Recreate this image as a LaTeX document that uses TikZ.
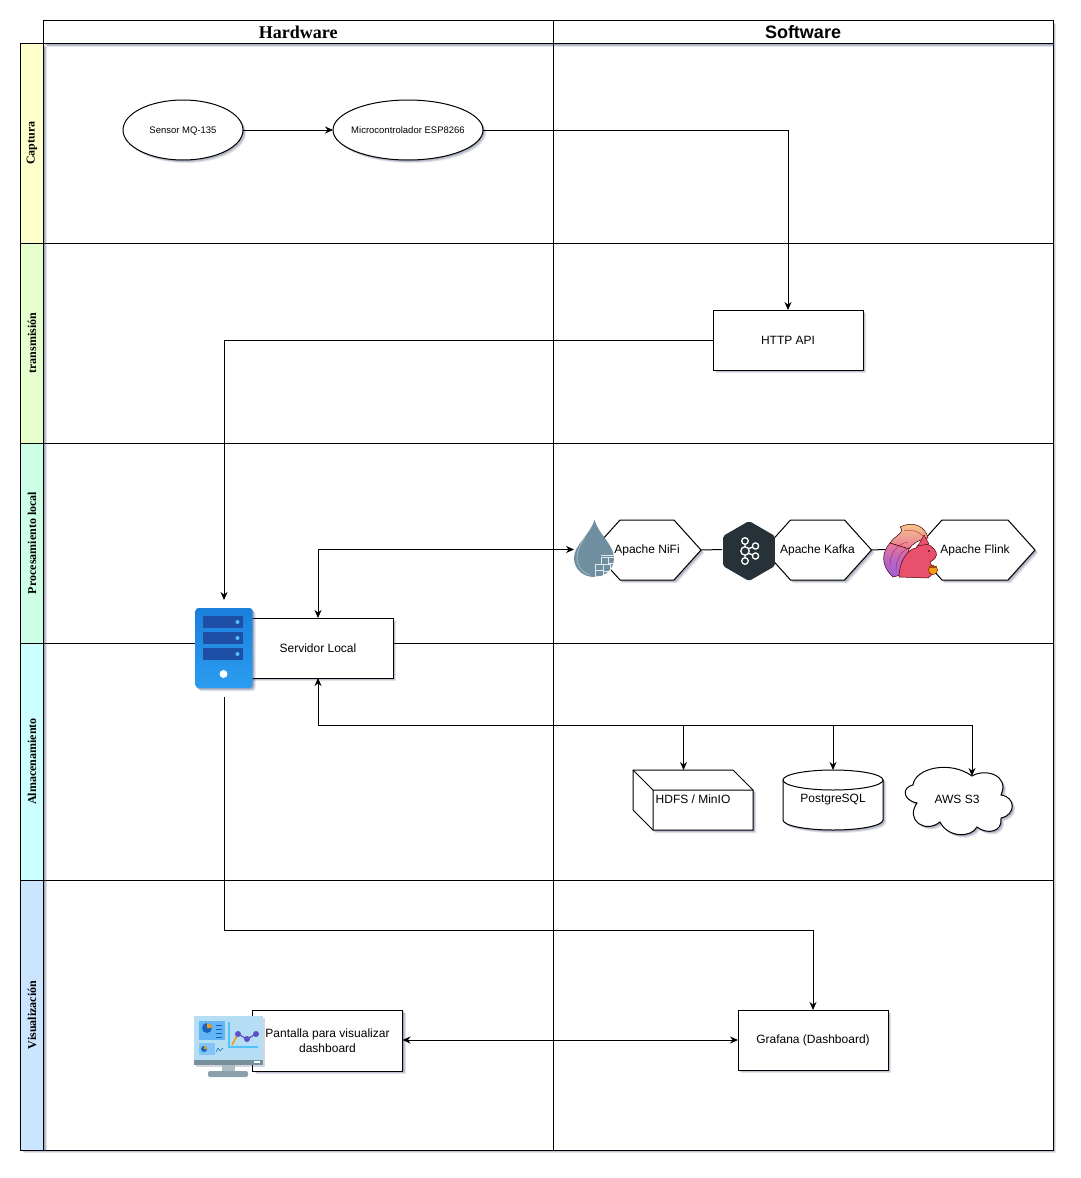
\documentclass[tikz,border=0pt]{standalone}
\usepackage{fontspec}
\setmainfont{Liberation Sans}
\newfontfamily\serifbold[BoldFont=Liberation Serif Bold]{Liberation Serif}
\usetikzlibrary{arrows.meta,shadows,shapes.geometric,shapes.symbols}
\definecolor{capcol}{HTML}{FFFFCC}
\definecolor{tracol}{HTML}{E6FFCC}
\definecolor{procol}{HTML}{CCFFE6}
\definecolor{almcol}{HTML}{CCFFFF}
\definecolor{viscol}{HTML}{CCE5FF}
\definecolor{shdcol}{HTML}{2A3560}
\definecolor{srvtop}{HTML}{1B7FDC}
\definecolor{srvbot}{HTML}{2B9DF0}
\definecolor{srvbar}{HTML}{1F4EA6}
\definecolor{srvdot}{HTML}{4FC3F7}
\definecolor{kafcol}{HTML}{263238}
\definecolor{nifcol}{HTML}{6F8E9F}
\definecolor{flicol}{HTML}{E8506E}
\definecolor{colayel}{HTML}{F7D08A}
\definecolor{colapin}{HTML}{E8789A}
\definecolor{colapur}{HTML}{A35FD6}
\definecolor{scrcol}{HTML}{B5DEF5}
\definecolor{belcol}{HTML}{78909C}
\definecolor{pancol}{HTML}{64B5F6}
\definecolor{ploblue}{HTML}{1565C0}
\definecolor{plocol}{HTML}{F39C12}
\definecolor{pldcol}{HTML}{5C4FC4}
\newcommand{\sintam}[1]{\makebox[0pt]{#1}}
\newcommand{\centrado}[1]{\raisebox{-3.4pt}[0pt][0pt]{\sintam{#1}}}
\tikzset{
	softshadow/.style={
		drop shadow={shadow xshift=1pt,shadow yshift=-1pt,fill=shdcol,opacity=.18},
		drop shadow={shadow xshift=2pt,shadow yshift=-2pt,fill=shdcol,opacity=.18},
		drop shadow={shadow xshift=3pt,shadow yshift=-3pt,fill=shdcol,opacity=.14}},
	lane/.style={draw,fill=white,inner sep=0,outer sep=0,line width=1pt,softshadow},
	lanetxt/.style={rotate=90,inner sep=0,font=\serifbold\bfseries\fontsize{12}{14}\selectfont},
	box/.style={draw,fill=white,minimum width=150pt,minimum height=60pt,inner sep=2pt,outer sep=0,
		align=center,line width=1pt,softshadow,font=\fontsize{12}{14.5}\selectfont},
	sensor/.style={ellipse,draw,fill=white,minimum height=60pt,inner sep=0,outer sep=0,
		line width=1pt,softshadow,font=\fontsize{9.5}{11}\selectfont},
	hexa/.style={signal,signal to=east and west,signal pointer angle=96,draw,fill=white,
		minimum height=60pt,inner sep=0,outer sep=0,line width=1pt,softshadow,
		font=\fontsize{12}{14}\selectfont},
	txt/.style={inner sep=0,font=\fontsize{12}{14}\selectfont},
	flecha/.style={line width=1pt,-{Stealth[length=8pt,width=7pt]}},
	doble/.style={line width=1pt,{Stealth[length=8pt,width=7pt]}-{Stealth[length=8pt,width=7pt]}}
}
\begin{document}
\begin{tikzpicture}[x=1pt,y=-1pt]
\useasboundingbox (0,0) rectangle (1081,1178);
\fill[white] (0,0) rectangle (1081,1178);
% swimlanes
\node[lane,minimum width=1009.5pt,minimum height=1106.5pt] (table) at (548.25,596.75) {};
\foreach \ytop/\ybot in {43.5/243,243/443,443/643,643/880,880/1150}
	\draw[line width=1pt] (43.5,\ytop) rectangle (1053,\ybot);
\draw[line width=1pt] (553,43.5) -- (553,1150);
\foreach \rowname/\ytop/\ybot/\rowcol [count=\i] in {Captura/43.5/243/capcol,transmisión/243/443/tracol,
	Procesamiento local/443/643/procol,Almacenamiento/643/880/almcol,Visualización/880/1150/viscol}{
	\node[lane,fill=\rowcol,minimum width=23pt,minimum height={(\ybot-\ytop)*1pt}] (lane\i) at (32,{(\ytop+\ybot)/2}) {};
	\node[lanetxt] (lanetxt\i) at (32,{(\ytop+\ybot)/2}) {\rowname};
}
\node[lane,minimum width=509.5pt,minimum height=23pt,font=\serifbold\bfseries\fontsize{18}{20}\selectfont] (hardware) at (298.25,32) {Hardware};
\node[lane,minimum width=500pt,minimum height=23pt,font=\bfseries\fontsize{18}{20}\selectfont] (software) at (803,32) {Software};
% nodos
\node[sensor,minimum width=120pt] (mq) at (183,130) {\centrado{Sensor MQ-135}};
\node[sensor,minimum width=150pt] (esp) at (408,130) {\centrado{Microcontrolador ESP8266}};
\node[box] (api) at (788,340) {HTTP API};
\node[box] (srv) at (318,648) {Servidor Local};
\node[box,minimum height=61pt] (pantalla) at (327.5,1040.5) {Pantalla para visualizar\\dashboard};
\node[box] (grafana) at (813,1040) {Grafana (Dashboard)};
\node[rectangle,rounded corners=3pt,inner sep=0,outer sep=0,minimum width=57pt,minimum height=80pt,
	top color=srvtop,bottom color=srvbot,softshadow] (srvicon) at (224,648) {};
\coordinate (nifiicon) at (574,549.5);
\coordinate (flinkicon) at (885,549.5);
\coordinate (kafkaicon) at (722,549.5);
\coordinate (hdfstop) at (683.5,770);
\coordinate (pgtop) at (833,770);
\coordinate (s3top) at (972,776);
\coordinate (bus) at (318,725);
% conectores
\draw[flecha] (mq) -- (esp);
\draw[flecha] (esp) -| (api);
\draw[flecha,shorten >=8pt] (api) -| (srvicon);
\draw[doble] (srv) |- (nifiicon);
\draw[doble] (srv) |- (bus) -| (s3top);
\draw[flecha] (bus) -| (hdfstop);
\draw[flecha] (bus) -| (pgtop);
\draw[flecha,shorten <=9pt] (srvicon) |- (813,930) -- (grafana);
\draw[doble] (grafana) -- (pantalla.east |- grafana);
% hexagonos
\node[hexa,minimum width=108pt] (nifi) at (647,550) {\sintam{Apache NiFi}};
\node[hexa,minimum width=108pt] (kafka) at (817.5,550) {\sintam{Apache Kafka}};
\node[hexa,minimum width=120pt] (flink) at (975,550) {\sintam{Apache Flink}};
\draw[line width=1pt] (nifi.east) -- (kafkaicon);
\draw[line width=1pt] (kafka.east) -- (flinkicon);
\node[regular polygon,regular polygon sides=6,shape border rotate=30,rounded corners=2pt,fill=kafcol,
	minimum size=60pt,inner sep=0,outer sep=0] (kafkalogo) at (749,551) {};
% almacenamiento
\draw[line width=1pt,fill=white,softshadow] (633,770) -- (733,770) -- (753,790) -- (753,830) -- (653,830) -- (633,810) -- cycle;
\draw[line width=1pt] (633,770) -- (653,790) -- (753,790) (653,790) -- (653,830);
\node[txt] (hdfs) at (693,799) {HDFS / MinIO};
\draw[line width=1pt,fill=white,softshadow] (783,780) .. controls (783,774.5) and (805,770) .. (833,770) .. controls (861,770) and (883,774.5) .. (883,780) -- (883,820) .. controls (883,825.5) and (861,830) .. (833,830) .. controls (805,830) and (783,825.5) .. (783,820) -- cycle;
\draw[line width=1pt] (783,780) .. controls (783,785.5) and (805,790) .. (833,790) .. controls (861,790) and (883,785.5) .. (883,780);
\node[txt] (pg) at (833,800) {PostgreSQL};
\draw[line width=1pt,fill=white,softshadow] (917,803) .. controls (902,800) and (902,787) .. (913,785) .. controls (915,768) and (950,760) .. (972,776) .. controls (985,768) and (1010,775) .. (1001,795) .. controls (1016,797) and (1016,815) .. (1001,818) .. controls (1003,832) and (987,835) .. (977,827) .. controls (971,838) and (948,838) .. (940,822) .. controls (925,834) and (905,820) .. (917,803) -- cycle;
\node[txt] (s3) at (957,799) {AWS S3};
% servidor
\foreach \yb in {616,632,648}{
	\fill[srvbar] (203,\yb) rectangle (243,\yb+12);
	\fill[srvdot] (237.5,\yb+6) circle (2);
}
\fill[white] (223.5,674) circle (4);
% nifi
\fill[nifcol] (594.5,520) .. controls (590,535) and (574,545) .. (574,558) .. controls (574,570) and (584,577) .. (594,577) .. controls (604,577) and (614,570) .. (614,558) .. controls (614,545) and (599,535) .. (594.5,520) -- cycle;
\draw[line width=.7pt,white,opacity=.4] (585,537) .. controls (580,545) and (577,552) .. (577,558) .. controls (577,566) and (582,572) .. (590,575);
\draw[line width=.9pt,white,opacity=.8] (595,564) rectangle (603,576) (603,564) rectangle (610,571) (595,570) -- (603,570) (601,557) rectangle (608,564) (608,557) rectangle (614,563) (601,555) -- (615,555);
% kafka
\draw[white,line width=1.3pt] (745,541) -- (745,561) (745,550) -- (755.5,546) (745,552) -- (755.5,556);
\foreach \kx/\ky/\kr in {745/541/3.3,745/561/3.3,745/551/4.2,755.5/546/3.1,755.5/556/3.1}
	\draw[white,line width=1.3pt,fill=kafcol] (\kx,\ky) circle (\kr);
% flink
\shade[top color=colayel,bottom color=colapin,draw=black!70!red,line width=.5pt]
	(897,536) .. controls (902,532) and (903,530) .. (900,527) .. controls (912,521) and (925,525) .. (928,538) .. controls (918,540) and (912,544) .. (909,549) -- (890,543) .. controls (892,540) and (894,538) .. (897,536) -- cycle;
\shade[top color=colapin,bottom color=colapur,middle color=colapur!70!colapin,draw=black!70!red,line width=.5pt]
	(893,577) .. controls (880,565) and (882,552) .. (890,543) -- (909,549) .. controls (907,556) and (908,564) .. (912,572) -- cycle;
\draw[red!70!black,line width=.5pt,opacity=.6] (890,565) .. controls (890,552) and (898,544) .. (908,542) (896,570) .. controls (896,558) and (902,550) .. (911,547) (904,531) .. controls (912,529) and (918,531) .. (923,536);
\draw[fill=flicol,draw=black!70!red,line width=.5pt]
	(899,577) .. controls (899,563) and (907,549) .. (916,548) .. controls (918,542) and (930,541) .. (936,552) .. controls (938,556) and (934,560) .. (930,562) .. controls (934,568) and (933,576) .. (928,578) -- cycle;
\fill[flicol,draw=black!70!red,line width=.4pt] (918,546) -- (924,535) -- (929,544) -- cycle;
\fill[black] (929,551) circle (.9);
\fill[plocol,draw=black!60!red,line width=.4pt] (933,570) circle (4.6);
\fill[black!40!orange] (929,566) rectangle (937,568);
% pantalla
\fill[shdcol,opacity=.2] (196,1018) rectangle (265,1067);
\fill[scrcol] (194,1016) rectangle (263,1060);
\fill[belcol] (194,1060) rectangle (263,1065);
\fill[white] (254,1061) rectangle (260,1063);
\fill[belcol!60!white] (222,1065) rectangle (235,1071);
\fill[belcol!85!white,rounded corners=2pt] (208,1071) rectangle (248,1077);
\fill[pancol] (199,1021) rectangle (225,1040);
\fill[ploblue] (207,1028) circle (5);
\fill[plocol] (207,1028) -- (207,1023) arc (-90:0:5) -- cycle;
\foreach \yl in {1025,1029,1033,1037}
	\draw[ploblue,line width=1pt] (216,\yl) -- (222,\yl);
\fill[pancol!80!white] (199,1043) rectangle (215,1055);
\fill[ploblue] (204,1049) circle (3);
\fill[plocol] (204,1049) -- (204,1046) arc (-90:0:3) -- cycle;
\draw[ploblue,line width=.5pt] (216,1052) -- (218,1048) -- (220,1051) -- (223,1048);
\draw[srvdot,line width=1.4pt] (229,1022) -- (229,1047) -- (258,1047);
\draw[plocol,line width=1.6pt] (232,1045) -- (238,1034);
\draw[pldcol,line width=1.2pt] (238,1034) -- (247,1039) -- (256,1034);
\foreach \dx/\dy in {238/1034,247/1039,256/1034}
	\fill[pldcol] (\dx,\dy) circle (3);
\end{tikzpicture}
\end{document}
